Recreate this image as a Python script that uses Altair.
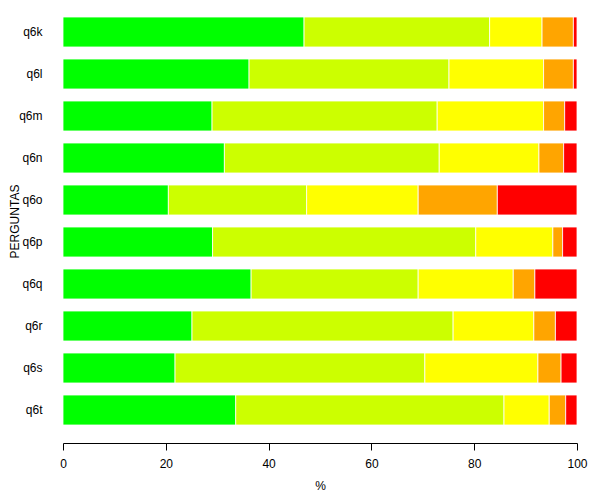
import altair as alt
import pandas as pd

questions = ["q6k", "q6l", "q6m", "q6n", "q6o", "q6p", "q6q", "q6r", "q6s", "q6t"]
levels = ["1", "2", "3", "4", "5"]
colors = ["#00FF00", "#CCFF00", "#FFFF00", "#FFA500", "#FF0000"]

s1 = [46.9, 36.2, 29.0, 31.4, 20.5, 29.1, 36.6, 25.1, 21.8, 33.6]
s2 = [36.1, 38.9, 43.8, 41.8, 26.9, 51.2, 32.5, 50.8, 48.6, 52.2]
s3 = [10.2, 18.4, 20.7, 19.4, 21.7, 15.0, 18.5, 15.7, 22.0, 8.8]
s4 = [6.1, 5.8, 4.1, 4.8, 15.4, 1.9, 4.2, 4.2, 4.5, 3.2]
s5 = [0.7, 0.7, 2.4, 2.6, 15.5, 2.8, 8.2, 4.2, 3.1, 2.2]

series = [s1, s2, s3, s4, s5]
rows = []
for li, (lev, vals) in enumerate(zip(levels, series)):
    for q, v in zip(questions, vals):
        rows.append({"q": q, "level": lev, "ord": li, "pct": v})
df = pd.DataFrame(rows)

chart = alt.Chart(df).mark_bar(stroke="white", strokeWidth=0.8).encode(
    y=alt.Y("q:N", sort=questions,
            scale=alt.Scale(paddingInner=0.286, paddingOuter=0),
            axis=alt.Axis(title="PERGUNTAS", ticks=False, domain=False,
                          labelPadding=21, labelFontSize=12, labelColor="#000",
                          labelFont="Liberation Sans",
                          titleFont="Liberation Sans", titleFontSize=12,
                          titleFontWeight="normal", titleColor="#000",
                          titleX=-42, titleY=204, titleAngle=270,
                          titleBaseline="bottom", titleAlign="center")),
    x=alt.X("pct:Q", stack="zero",
            scale=alt.Scale(domain=[0, 100], nice=False, zero=True),
            axis=alt.Axis(title="%", values=[0, 20, 40, 60, 80, 100],
                          grid=False, offset=18, tickSize=7, tickColor="#000",
                          domainColor="#000", labelPadding=8,
                          labelFontSize=12, labelColor="#000",
                          labelFont="Liberation Sans", labelFlush=False,
                          titleFont="Liberation Sans", titleFontSize=12,
                          titleFontWeight="normal", titleColor="#000",
                          titlePadding=11)),
    color=alt.Color("level:N", scale=alt.Scale(domain=levels, range=colors),
                    legend=None),
    order=alt.Order("ord:Q"),
).properties(
    width=514, height=408,
    autosize=alt.AutoSizeParams(type="none"),
    padding={"left": 55, "top": 9, "right": 15, "bottom": 68},
).configure_view(stroke=None)

chart.save("out.html", embed_options={"renderer": "svg", "actions": False})
